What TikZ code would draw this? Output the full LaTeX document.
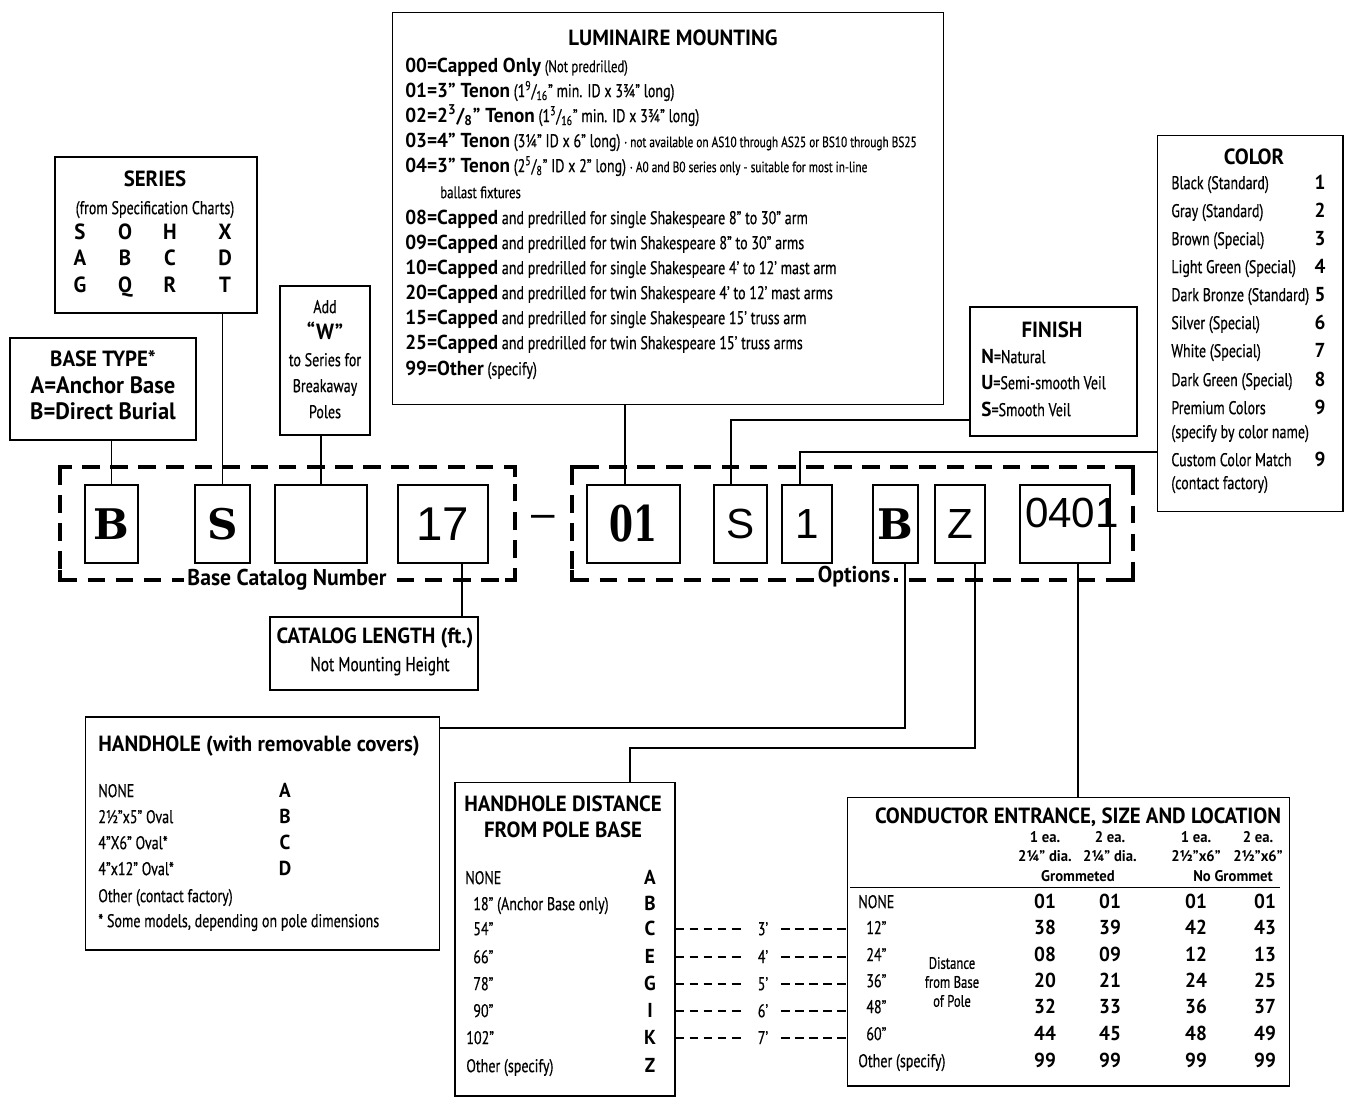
\documentclass[tikz,border=0pt]{standalone}
\usepackage{fontspec}
\setmainfont{PT Sans}[FakeStretch=0.76, FakeBold=0.5]
\newfontfamily\hdfont{PT Sans}[FakeStretch=0.95]
\newfontfamily\slabfont{DejaVu Serif}
\newfontfamily\slabcond{DejaVu Serif}[FakeStretch=0.7]
\newfontfamily\codefont{Liberation Sans}
\usetikzlibrary{positioning, calc}

\newcommand{\fttl}{\fontsize{12.5}{14}\selectfont\hdfont\bfseries}
\newcommand{\fbod}{\fontsize{10.5}{12}\selectfont}
\newcommand{\fsml}{\fontsize{9.5}{10.8}\selectfont}
\newcommand{\fann}{\fontsize{8.5}{10}\selectfont}
\newcommand{\hb}[1]{{\fontsize{11.5}{13}\selectfont\hdfont\bfseries #1}}
\newcommand{\hsm}[1]{{\fontsize{8.8}{11}\selectfont\hdfont\bfseries #1}}

\begin{document}
\begin{tikzpicture}[x=0.02cm, y=-0.02cm,
  box/.style={draw, line width=0.6pt, inner sep=0pt},
  code/.style={draw, line width=1.6pt, minimum height=1.56cm, inner sep=0pt},
  frame/.style={line width=2.6pt, dash pattern=on 10pt off 6pt},
  link/.style={line width=1.1pt},
  dist/.style={line width=0.7pt, dash pattern=on 5pt off 3pt},
  lbl/.style={anchor=west, inner sep=0pt, text height=1.4ex, text depth=0pt, font=\fbod},
  ctr/.style={lbl, anchor=center}]
\useasboundingbox (0,0) rectangle (1346,1098);

% Luminaire mounting
\node[box, minimum width=11.04cm, minimum height=7.86cm] (lum) at (668,208.5) {};
\node[ctr, font=\fttl] (lumt) at (673,39) {LUMINAIRE MOUNTING};
\node[lbl] (lum00) at (405,66) {\hb{00=Capped Only} {\fsml(Not predrilled)}};
\node[lbl] (lum01) at (405,91) {\hb{01=3” Tenon} (1\textsuperscript{9}/\textsubscript{16}” min. ID x 3¾” long)};
\node[lbl] (lum02) at (405,116) {\hb{02=2\textsuperscript{3}/\textsubscript{8}” Tenon} (1\textsuperscript{3}/\textsubscript{16}” min. ID x 3¾” long)};
\node[lbl] (lum03) at (405,141) {\hb{03=4” Tenon} (3¼” ID x 6” long) {\fann· not available on AS10 through AS25 or BS10 through BS25}};
\node[lbl] (lum04) at (405,166) {\hb{04=3” Tenon} (2\textsuperscript{5}/\textsubscript{8}” ID x 2” long) {\fann· A0 and B0 series only - suitable for most in-line}};
\node[lbl, font=\fsml] (lum04b) at (440,192) {ballast fixtures};
\node[lbl] (lum08) at (405,218) {\hb{08=Capped} and predrilled for single Shakespeare 8” to 30” arm};
\node[lbl] (lum09) at (405,243) {\hb{09=Capped} and predrilled for twin Shakespeare 8” to 30” arms};
\node[lbl] (lum10) at (405,268) {\hb{10=Capped} and predrilled for single Shakespeare 4’ to 12’ mast arm};
\node[lbl] (lum20) at (405,293) {\hb{20=Capped} and predrilled for twin Shakespeare 4’ to 12’ mast arms};
\node[lbl] (lum15) at (405,318) {\hb{15=Capped} and predrilled for single Shakespeare 15’ truss arm};
\node[lbl] (lum25) at (405,343) {\hb{25=Capped} and predrilled for twin Shakespeare 15’ truss arms};
\node[lbl] (lum99) at (405,369) {\hb{99=Other} (specify)};

% Color
\node[box, minimum width=3.72cm, minimum height=7.54cm] (color) at (1250,323.5) {};
\node[ctr, font=\fttl] (colt) at (1254,158) {COLOR};
\foreach \t/\n/\y [count=\i] in {Black (Standard)/1/183, Gray (Standard)/2/211, Brown (Special)/3/239,
    Light Green (Special)/4/267, Dark Bronze (Standard)/5/295, Silver (Special)/6/323,
    White (Special)/7/351, Dark Green (Special)/8/380, Premium Colors/9/408, Custom Color Match/9/460} {
  \node[lbl] (col\i) at (1171,\y) {\t};
  \node[ctr] (coln\i) at (1320,\y) {\hb{\n}};
}
\node[lbl] (colp) at (1171,432) {(specify by color name)};
\node[lbl] (colc) at (1171,483) {(contact factory)};

% Series
\node[box, minimum width=4.04cm, minimum height=3.12cm] (series) at (156,235) {};
\node[ctr, font=\fttl] (sert) at (155,180) {SERIES};
\node[ctr] (sers) at (155,208) {(from Specification Charts)};
\foreach \a/\b/\c/\d/\y [count=\i] in {S/O/H/X/233, A/B/C/D/259, G/Q/R/T/286} {
  \node[ctr, font=\fttl] (sa\i) at (80,\y) {\a};
  \node[ctr, font=\fttl] (sb\i) at (125,\y) {\b};
  \node[ctr, font=\fttl] (sc\i) at (170,\y) {\c};
  \node[ctr, font=\fttl] (sd\i) at (225,\y) {\d};
}

% Base type
\node[box, minimum width=3.72cm, minimum height=2.04cm] (basetype) at (103,389) {};
\node[ctr, font=\fttl] (bt1) at (103,360) {BASE TYPE*};
\node[ctr, font=\fontsize{13.5}{15}\selectfont\hdfont\bfseries] (bt2) at (103,387) {A=Anchor Base};
\node[ctr, font=\fontsize{13.5}{15}\selectfont\hdfont\bfseries] (bt3) at (103,413) {B=Direct Burial};

% Breakaway
\node[box, minimum width=1.8cm, minimum height=2.98cm] (addw) at (325,360.5) {};
\node[ctr] (aw1) at (325,307) {Add};
\node[ctr, font=\fttl] (aw2) at (325,333) {“W”};
\node[ctr] (aw3) at (325,360) {to Series for};
\node[ctr] (aw4) at (325,386) {Breakaway};
\node[ctr] (aw5) at (325,412) {Poles};

% Finish
\node[box, minimum width=3.34cm, minimum height=2.58cm] (finish) at (1053.5,371.5) {};
\node[ctr, font=\fttl] (fint) at (1052,331) {FINISH};
\node[lbl] (fin1) at (981,357) {\hb{N}=Natural};
\node[lbl] (fin2) at (981,383) {\hb{U}=Semi-smooth Veil};
\node[lbl] (fin3) at (981,410) {\hb{S}=Smooth Veil};

% Catalog number frames
\draw[frame] (60,467) rectangle (515,580);
\draw[frame] (572,467) rectangle (1133,580);
\foreach \cx/\cy/\sx/\sy in {60/467/1/1, 515/467/-1/1, 60/580/1/-1, 515/580/-1/-1,
    572/467/1/1, 1133/467/-1/1, 572/580/1/-1, 1133/580/-1/-1}
  \draw[line width=2.6pt] (\cx+\sx*10,\cy) -- (\cx,\cy) -- (\cx,\cy+\sy*10);
\node[fill=white, inner sep=2pt, font=\fontsize{13}{15}\selectfont\hdfont\bfseries] (bcn) at (287,580) {Base Catalog Number};
\node[fill=white, inner sep=2pt, font=\fontsize{13}{15}\selectfont\hdfont\bfseries] (opt) at (854,577) {Options};
\node[font=\codefont\fontsize{24}{26}\selectfont] (hyph) at (543,521) {–};

% Code boxes
\node[code, minimum width=1.06cm, font=\slabfont\bfseries\fontsize{24}{26}\selectfont] (cB) at (111.5,524) {B};
\node[code, minimum width=1.1cm, font=\slabfont\bfseries\fontsize{24}{26}\selectfont] (cS) at (222.5,524) {S};
\node[code, minimum width=1.84cm] (cW) at (321,524) {};
\node[code, minimum width=1.8cm, font=\codefont\fontsize{27}{30}\selectfont] (c17) at (443,524) {17};
\node[code, minimum width=1.86cm, font=\slabcond\bfseries\fontsize{28}{30}\selectfont] (c01) at (633.5,524) {01};
\node[code, minimum width=1.06cm, font=\codefont\fontsize{24}{26}\selectfont] (cFin) at (740.5,524) {S};
\node[code, minimum width=1.0cm, font=\codefont\fontsize{24}{26}\selectfont] (cCol) at (807,524) {1};
\node[code, minimum width=0.9cm, font=\slabfont\bfseries\fontsize{24}{26}\selectfont] (cHH) at (895.5,524) {B};
\node[code, minimum width=1.0cm, font=\codefont\fontsize{24}{26}\selectfont] (cDist) at (960,524) {Z};
\node[code, minimum width=1.8cm] (cCond) at (1065,524) {};
\node[font=\codefont\fontsize{24}{26}\selectfont, inner sep=0pt] (cCondt) at (1072,513) {0401};

% Catalog length
\node[box, minimum width=4.16cm, minimum height=1.46cm] (catlen) at (374,653.5) {};
\node[ctr, font=\fttl] (clt) at (375,637) {CATALOG LENGTH (ft.)};
\node[ctr, font=\fontsize{11.5}{13}\selectfont] (cls) at (380,665) {Not Mounting Height};

% Handhole
\node[box, minimum width=7.1cm, minimum height=4.66cm] (handhole) at (262.5,833.5) {};
\node[lbl, font=\fttl] (hht) at (98,745) {HANDHOLE (with removable covers)};
\foreach \t/\l [count=\i] in {NONE/A, 2½”x5” Oval/B, 4”X6” Oval*/C, 4”x12” Oval*/D} {
  \node[lbl] (hhr\i) at (98,765+26*\i) {\t};
  \node[ctr] (hhl\i) at (285,765+26*\i) {\hb{\l}};
}
\node[lbl] (hho) at (98,896) {Other (contact factory)};
\node[lbl] (hhn) at (98,921) {* Some models, depending on pole dimensions};

% Handhole distance
\node[box, minimum width=4.4cm, minimum height=6.28cm] (hhdist) at (565,939) {};
\node[ctr, font=\fttl] (hdt1) at (563,805) {HANDHOLE DISTANCE};
\node[ctr, font=\fttl] (hdt2) at (563,831) {FROM POLE BASE};
\foreach \x/\t/\l/\y [count=\i] in {465/NONE/A/878, 473/18” (Anchor Base only)/B/904, 473/54”/C/929,
    473/66”/E/957, 473/78”/G/984, 473/90”/I/1011, 466/102”/K/1038, 466/Other (specify)/Z/1066} {
  \node[lbl] (hdr\i) at (\x,\y) {\t};
  \node[ctr] (hdl\i) at (650,\y) {\hb{\l}};
}

% Conductor entrance
\node[box, minimum width=8.86cm, minimum height=5.78cm] (cond) at (1068.5,941.5) {};
\node[ctr, font=\fttl] (cdt) at (1078,817) {CONDUCTOR ENTRANCE, SIZE AND LOCATION};
\foreach \x/\a/\b in {1045/1 ea./2¼” dia., 1110/2 ea./2¼” dia., 1196/1 ea./2½”x6”, 1258/2 ea./2½”x6”} {
  \node[ctr] (cha\x) at (\x,836) {\hsm{\a}};
  \node[ctr] (chb\x) at (\x,855) {\hsm{\b}};
}
\node[ctr] (chg) at (1078,875) {\hsm{Grommeted}};
\node[ctr] (chn) at (1233,875) {\hsm{No Grommet}};
\draw[line width=0.5pt] (850,887) -- (1280,887);
\foreach \x/\t/\a/\b/\c/\d/\y [count=\i] in {858/NONE/01/01/01/01/902, 866/12”/38/39/42/43/928,
    866/24”/08/09/12/13/955, 866/36”/20/21/24/25/981, 866/48”/32/33/36/37/1007,
    866/60”/44/45/48/49/1034, 858/Other (specify)/99/99/99/99/1061} {
  \node[lbl] (cdr\i) at (\x,\y) {\t};
  \node[ctr] (cda\i) at (1045,\y) {\hb{\a}};
  \node[ctr] (cdb\i) at (1110,\y) {\hb{\b}};
  \node[ctr] (cdc\i) at (1196,\y) {\hb{\c}};
  \node[ctr] (cdd\i) at (1265,\y) {\hb{\d}};
}
\node[font=\fsml, align=center, inner sep=0pt] (dfb) at (952,982) {Distance\\from Base\\of Pole};

% Feet between the two tables
\foreach \d/\y [count=\i] in {3/929, 4/957, 5/984, 6/1011, 7/1038} {
  \node[ctr] (dft\i) at (763,\y) {\d’};
  \draw[dist] (hhdist.east |- dft\i) -- ([xshift=-7pt]dft\i.west);
  \draw[dist] ([xshift=7pt]dft\i.east) -- (cond.west |- dft\i);
}

% Connectors
\coordinate (k17) at (462,0);
\coordinate (klum) at (625,0);
\coordinate (kfin) at (731,420);
\coordinate (kcol) at (800,452);
\coordinate (khh) at (905,728);
\coordinate (kd1) at (975,748);
\coordinate (kd2) at (630,748);
\coordinate (kcd) at (1078,0);
\draw[link] (cB.north) -- (cB.north |- basetype.south);
\draw[link] (cS.north) -- (cS.north |- series.south);
\draw[link] (cW.north) -- (cW.north |- addw.south);
\draw[link] (c17.south -| k17) -- (catlen.north -| k17);
\draw[link] (lum.south -| klum) -- (c01.north -| klum);
\draw[link] (finish.west |- kfin) -- (kfin) -- (kfin |- cFin.north);
\draw[link] (color.west |- kcol) -- (kcol) -- (kcol |- cCol.north);
\draw[link] (cHH.south -| khh) -- (khh) -- (handhole.east |- khh);
\draw[link] (cDist.south -| kd1) -- (kd1) -- (kd2) -- (hhdist.north -| kd2);
\draw[link] (cCond.south -| kcd) -- (cond.north -| kcd);
\end{tikzpicture}
\end{document}
